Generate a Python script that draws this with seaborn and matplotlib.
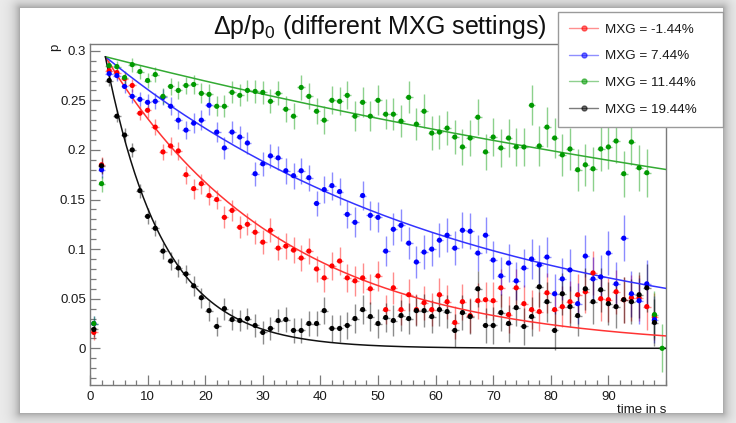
import numpy as np
import pandas as pd
import matplotlib
matplotlib.use("Agg")
import matplotlib.pyplot as plt
from matplotlib.lines import Line2D
import seaborn as sns

# ---- measured polarisation per time bin (75 bins over 0..100 s) ----
n_bins = 75
t_range = (0.0, 100.0)

p_mxg_m144 = [0.016, 0.185, 0.280, 0.278, 0.272, 0.265, 0.237, 0.240, 0.223, 0.198,
              0.204, 0.199, 0.175, 0.161, 0.166, 0.154, 0.150, 0.132, 0.139, 0.122,
              0.125, 0.117, 0.107, 0.119, 0.101, 0.103, 0.099, 0.091, 0.098, 0.080,
              0.071, 0.083, 0.088, 0.071, 0.068, 0.071, 0.060, 0.073, 0.039, 0.061,
              0.039, 0.054, 0.039, 0.046, 0.039, 0.054, 0.047, 0.026, 0.047, 0.033,
              0.048, 0.049, 0.048, 0.061, 0.034, 0.061, 0.045, 0.039, 0.037, 0.056,
              0.039, 0.042, 0.047, 0.054, 0.057, 0.076, 0.050, 0.049, 0.057, 0.049,
              0.051, 0.051, 0.042, 0.032, np.nan]

p_mxg_744 = [0.025, 0.180, 0.277, 0.275, 0.264, 0.254, 0.251, 0.248, 0.249, 0.253,
             0.244, 0.230, 0.220, 0.227, 0.230, 0.245, 0.218, 0.202, 0.218, 0.213,
             0.207, 0.176, 0.186, 0.194, 0.192, 0.179, 0.174, 0.179, 0.172, 0.146,
             0.160, 0.164, 0.158, 0.135, 0.127, 0.154, 0.134, 0.132, 0.098, 0.120,
             0.124, 0.106, 0.087, 0.097, 0.100, 0.109, 0.114, 0.101, 0.119, 0.118,
             0.096, 0.114, 0.089, 0.073, 0.086, 0.068, 0.081, 0.090, 0.084, 0.092,
             0.055, 0.070, 0.079, 0.045, 0.093, 0.070, 0.072, 0.096, 0.065, 0.111,
             0.055, 0.048, 0.065, 0.029, np.nan]

p_mxg_1144 = [0.025, 0.166, 0.285, 0.284, 0.273, 0.286, 0.279, 0.270, 0.276, 0.254,
              0.264, 0.260, 0.265, 0.266, 0.257, 0.256, 0.244, 0.244, 0.258, 0.255,
              0.260, 0.259, 0.258, 0.249, 0.257, 0.241, 0.234, 0.263, 0.254, 0.239,
              0.230, 0.250, 0.249, 0.255, 0.234, 0.248, 0.234, 0.250, 0.236, 0.236,
              0.229, 0.253, 0.226, 0.239, 0.217, 0.218, 0.222, 0.213, 0.203, 0.212,
              0.233, 0.198, 0.213, 0.202, 0.212, 0.203, 0.203, 0.245, 0.204, 0.223,
              0.212, 0.195, 0.201, 0.180, 0.185, 0.181, 0.201, 0.203, 0.209, 0.176,
              0.208, 0.182, 0.177, 0.034, 0.000]

p_mxg_1944 = [0.019, 0.184, 0.270, 0.234, 0.215, 0.200, 0.159, 0.133, 0.121, 0.098,
              0.088, 0.081, 0.075, 0.063, 0.051, 0.038, 0.022, 0.040, 0.029, 0.028,
              0.030, 0.023, 0.016, 0.020, 0.028, 0.029, 0.018, 0.018, 0.025, 0.025,
              0.038, 0.020, 0.020, 0.023, 0.030, 0.039, 0.032, 0.025, 0.031, 0.028,
              0.033, 0.030, 0.038, 0.038, 0.032, 0.039, 0.037, 0.018, 0.036, 0.032,
              0.060, 0.023, 0.023, 0.036, 0.025, 0.041, 0.022, 0.032, 0.062, 0.047,
              0.018, 0.055, 0.042, 0.033, 0.060, 0.047, 0.059, 0.045, 0.042, 0.049,
              0.047, 0.054, 0.061, 0.026, np.nan]

# statistical uncertainty per bin
p_err = [0.008, 0.008, 0.006, 0.006, 0.007, 0.007, 0.007, 0.008, 0.008, 0.008,
         0.009, 0.009, 0.009, 0.010, 0.010, 0.010, 0.010, 0.011, 0.011, 0.011,
         0.011, 0.012, 0.012, 0.012, 0.012, 0.013, 0.013, 0.013, 0.013, 0.013,
         0.014, 0.014, 0.014, 0.014, 0.015, 0.015, 0.015, 0.015, 0.015, 0.016,
         0.016, 0.016, 0.016, 0.017, 0.017, 0.017, 0.017, 0.017, 0.018, 0.018,
         0.018, 0.018, 0.019, 0.019, 0.019, 0.019, 0.019, 0.020, 0.020, 0.020,
         0.020, 0.021, 0.021, 0.021, 0.021, 0.022, 0.022, 0.022, 0.022, 0.023,
         0.023, 0.023, 0.024, 0.024, 0.024]

series_labels = ["MXG = -1.44%", "MXG = 7.44%", "MXG = 11.44%", "MXG = 19.44%"]
series_values = [p_mxg_m144, p_mxg_744, p_mxg_1144, p_mxg_1944]
marker_colors = ["#ff0000", "#0000ff", "#009900", "#000000"]
fit_colors = ["#ff3333", "#3333ff", "#33aa33", "#111111"]

# exponential decay fits: p(t) = A * exp(-(t - t0) / tau)
fit_amp = 0.294
fit_t0 = 2.667
fit_tau = [30.8, 61.5, 199.0, 10.0]

# ---- figure ----
W, H = 736, 423
sns.set_theme(style="white")
plt.rcParams["font.family"] = ["Liberation Sans", "DejaVu Sans"]
plt.rcParams["mathtext.fontset"] = "custom"
plt.rcParams["mathtext.rm"] = "Liberation Sans"
plt.rcParams["mathtext.it"] = "Liberation Sans"
plt.rcParams["mathtext.default"] = "regular"

fig = plt.figure(figsize=(W / 100, H / 100), dpi=100)

# window drop shadow around the white canvas
cx0, cx1, cy0, cy1 = 20, 723, 8, 413
yy, xx = np.mgrid[0:H, 0:W]
dx = np.maximum(np.maximum(cx0 - xx, xx - (cx1 - 1)), 0)
dy = np.maximum(np.maximum(cy0 - yy, yy - (cy1 - 1)), 0)
dist = np.hypot(dx, dy)
shade = 0.93 - 0.30 * np.exp(-dist / 6.0)
inside = (xx >= cx0) & (xx < cx1) & (yy >= cy0) & (yy < cy1)
shade[inside] = 1.0
bg = np.dstack([shade, shade, shade])
fig.figimage(bg, xo=0, yo=0, origin="upper", zorder=-10)

ax_l, ax_r, ax_t, ax_b = 90, 666, 44, 385
ax = fig.add_axes([ax_l / W, 1 - ax_b / H, (ax_r - ax_l) / W, (ax_b - ax_t) / H])
ax.set_zorder(1)
ax.patch.set_alpha(0.0)

edges = np.linspace(t_range[0], t_range[1], n_bins + 1)
centers = 0.5 * (edges[:-1] + edges[1:])
half_w = 0.5 * (edges[1] - edges[0])

frames = []
for lab, vals in zip(series_labels, series_values):
    frames.append(pd.DataFrame({"t": centers, "p": vals, "err": p_err, "setting": lab}))
data = pd.concat(frames, ignore_index=True).dropna(subset=["p"])

palette = dict(zip(series_labels, marker_colors))
for lab, col, fcol, tau in zip(series_labels, marker_colors, fit_colors, fit_tau):
    d = data[data["setting"] == lab]
    ax.errorbar(d["t"], d["p"], yerr=d["err"], xerr=half_w, fmt="none",
                ecolor=col, elinewidth=1.0, alpha=0.45, capsize=0, zorder=2)
    t_fit = np.linspace(fit_t0, t_range[1], 400)
    fit_df = pd.DataFrame({"t": t_fit, "p": fit_amp * np.exp(-(t_fit - fit_t0) / tau)})
    sns.lineplot(data=fit_df, x="t", y="p", ax=ax, color=fcol, linewidth=1.1,
                 zorder=3, legend=False)

sns.scatterplot(data=data, x="t", y="p", hue="setting", palette=palette,
                hue_order=series_labels, s=14, edgecolor="none", linewidth=0,
                ax=ax, legend=False, zorder=4)

ax.set_xlim(t_range)
ax.set_ylim(-0.037, 0.3068)
ax.set_xlabel("")
ax.set_ylabel("")

ax.set_xticks(np.arange(0, 100, 10))
ax.set_xticks(np.arange(0, 100.1, 2), minor=True)
ax.set_yticks(np.arange(0, 0.301, 0.05))
ax.set_yticks(np.arange(-0.03, 0.3001, 0.01), minor=True)
ax.set_yticklabels(["0", "0.05", "0.1", "0.15", "0.2", "0.25", "0.3"])
ax.set_xticklabels([str(v) for v in range(0, 100, 10)])

spine_col = "#7a7a7a"
for s in ax.spines.values():
    s.set_color(spine_col)
    s.set_linewidth(1.0)
ax.tick_params(axis="both", which="both", direction="in", colors=spine_col,
               labelcolor="#1a1a1a", labelsize=9.5, width=0.9,
               top=False, right=False, bottom=True, left=True)
ax.tick_params(axis="x", which="major", length=7, pad=4)
ax.tick_params(axis="x", which="minor", length=3.8)
ax.tick_params(axis="y", which="major", length=7, pad=3)
ax.tick_params(axis="y", which="minor", length=4)

fig.text(380 / W, 1 - 27 / H, "\u0394p/p$_0$ (different MXG settings)",
         ha="center", va="center", fontsize=18, color="#111111")
fig.text(ax_r / W, 1 - 410 / H, "time in s", ha="right", va="center",
         fontsize=9.5, color="#1a1a1a")
fig.text(55 / W, 1 - 47 / H, "p", rotation=90, ha="center", va="center",
         fontsize=9.5, color="#1a1a1a")

handles = [Line2D([0], [0], color=fc, lw=1.0, alpha=0.55, marker="o",
                  markersize=3.6, markerfacecolor=mc, markeredgecolor=mc)
           for fc, mc in zip(fit_colors, marker_colors)]
leg = fig.legend(handles, series_labels, loc="upper left",
                 bbox_to_anchor=(558 / W, 1 - 119 / H, 165 / W, 107 / H),
                 mode="expand", borderaxespad=0, fontsize=9.7, frameon=True,
                 fancybox=False, shadow=False, handlelength=2.1,
                 handletextpad=0.55, borderpad=0.85, labelspacing=1.05)
leg.set_zorder(5)
leg.get_frame().set_edgecolor("#9a9a9a")
leg.get_frame().set_linewidth(1.0)
leg.get_frame().set_facecolor("white")
leg.get_frame().set_alpha(1.0)
for txt in leg.get_texts():
    txt.set_color("#1a1a1a")

fig.savefig("out.png", dpi=100)
